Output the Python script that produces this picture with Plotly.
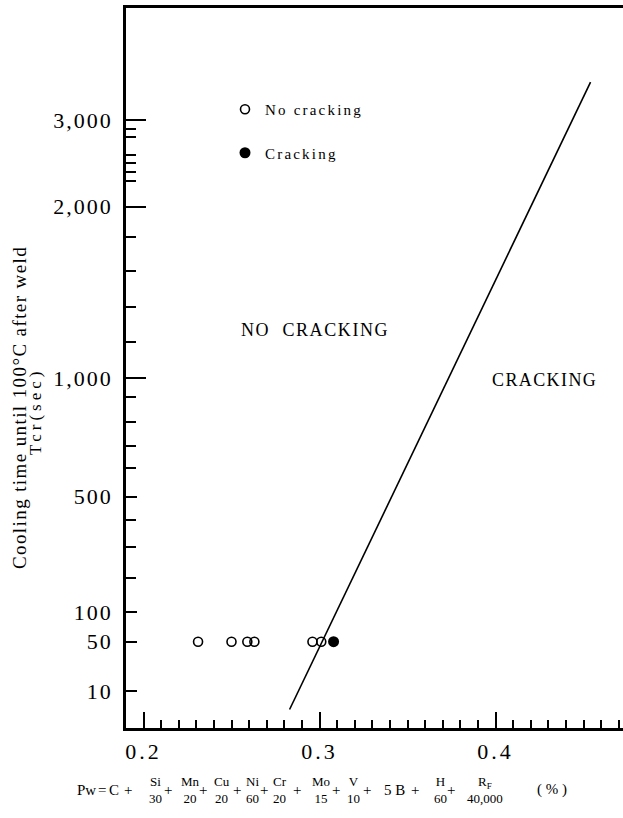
import numpy as np
import plotly.graph_objects as go

# ---------------- data ----------------
pw_no_crack = [0.231, 0.250, 0.259, 0.263, 0.296, 0.301]
tcr_no_crack = [50, 50, 50, 50, 50, 50]
pw_crack = [0.308]
tcr_crack = [50]
boundary_pw = [0.283, 0.454]
boundary_tcr = [5, 3440]

y_major_vals = [10, 50, 100, 500, 1000, 2000, 3000]
y_major_text = ["10", "50", "100", "500", "1,000", "2,000", "3,000"]
y_long_vals = [1000, 2000, 3000]
y_minor_vals = [200, 300, 400, 600, 700, 800, 900, 1200, 1400, 1600, 1800,
                2300, 2400, 2500, 2600, 2800, 2900]
x_major_vals = [0.2, 0.3, 0.4]
x_major_text = ["0.2", "0.3", "0.4"]
x_minor_vals = [round(0.19 + 0.01 * i, 2) for i in range(29)]

# calibration of the chart's non-uniform time scale (value -> relative height)
scale_t = [0, 10, 50, 100, 200, 300, 400, 500, 600, 700, 800, 900, 1000,
           1200, 1400, 1600, 1800, 2000, 3000, 4500]
scale_h = [0, 37, 86.3, 116, 150, 181.3, 208, 231.3, 260, 282.3, 306.3, 331,
           350, 386, 421, 457, 491, 521.3, 608, 737]


def ty(v):
    return np.interp(v, scale_t, scale_h).tolist()


SERIF = "Liberation Serif, Times New Roman, serif"
W, H = 623, 818
ML, MR, MT, MB = 126, 0, 8, 90
PW, PH = W - ML - MR, H - MT - MB


def px(x):
    return (x - ML) / PW


def py(y):
    return 1 - (y - MT) / PH


def sp(text, s):
    return f'<span style="letter-spacing:{s}px">{text}</span>'


fig = go.Figure()

fig.add_trace(go.Scatter(
    x=boundary_pw, y=ty(boundary_tcr), mode="lines",
    line=dict(color="black", width=1.6), showlegend=False, hoverinfo="skip"))

fig.add_trace(go.Scatter(
    x=pw_no_crack, y=ty(tcr_no_crack), mode="markers",
    name=sp("No cracking", 2.2), legendgroup="a",
    marker=dict(symbol="circle-open", size=9, color="black",
                line=dict(width=1.6, color="black"))))

fig.add_trace(go.Scatter(
    x=pw_crack, y=ty(tcr_crack), mode="markers",
    name=sp("Cracking", 2.2), legendgroup="b",
    marker=dict(symbol="circle", size=11, color="black")))

# long major ticks on an overlaid axis
fig.add_trace(go.Scatter(x=[None], y=[None], yaxis="y2", showlegend=False))

yr = [0, PH]
fig.update_layout(
    width=W, height=H,
    margin=dict(l=ML, r=MR, t=MT, b=MB),
    paper_bgcolor="white", plot_bgcolor="white",
    font=dict(family=SERIF, color="black"),
    xaxis=dict(
        range=[0.2 - 17.5 / 1760, 0.2 + (W - 143.5) / 1760],
        showline=True, linewidth=2.5, linecolor="black", mirror=True,
        showgrid=False, zeroline=False,
        tickmode="array", tickvals=x_major_vals,
        ticktext=[sp(t, 3) for t in x_major_text],
        ticks="inside", ticklen=16, tickwidth=2, tickcolor="black",
        ticklabelstandoff=2,
        tickfont=dict(family=SERIF, size=22, color="black"),
        minor=dict(tickvals=x_minor_vals, ticks="inside", ticklen=8,
                   tickwidth=1.6, tickcolor="black"),
    ),
    yaxis=dict(
        range=yr, showline=True, linewidth=2.5, linecolor="black",
        mirror=False, showgrid=False, zeroline=False,
        tickmode="array", tickvals=ty(y_major_vals),
        ticktext=[sp(t, 2) for t in y_major_text],
        ticks="inside", ticklen=11, tickwidth=2, tickcolor="black",
        ticklabelstandoff=6,
        tickfont=dict(family=SERIF, size=22, color="black"),
        minor=dict(tickvals=ty(y_minor_vals), ticks="inside", ticklen=10,
                   tickwidth=1.6, tickcolor="black"),
    ),
    yaxis2=dict(
        overlaying="y", side="left", range=yr, showline=False,
        showgrid=False, zeroline=False, showticklabels=False,
        tickmode="array", tickvals=ty(y_long_vals),
        ticks="inside", ticklen=20, tickwidth=2, tickcolor="black",
    ),
    legend=dict(
        x=px(225), y=py(93), xanchor="left", yanchor="top",
        bgcolor="rgba(0,0,0,0)", borderwidth=0,
        font=dict(family=SERIF, size=15, color="black"),
        traceorder="grouped", tracegroupgap=21, itemsizing="trace",
    ),
    showlegend=True,
)

ann = []
ann.append(dict(text=sp("NO  CRACKING", 1.6), x=px(314.5), y=py(330),
                font=dict(family=SERIF, size=18)))
ann.append(dict(text=sp("CRACKING", 1.4), x=px(544.5), y=py(380),
                font=dict(family=SERIF, size=18)))
ann.append(dict(text=sp("Cooling time until 100°C after weld", 1.4),
                x=px(19), y=py(408), textangle=-90,
                font=dict(family=SERIF, size=19)))
ann.append(dict(text=sp("Tcr(sec)", 4), x=px(35), y=py(412),
                textangle=-90, font=dict(family=SERIF, size=17)))

# formula under the x axis: (text, is_fraction, centre x in px)
formula = [
    ("Pw", False, 86), ("=", False, 102), ("C", False, 114), ("+", False, 128),
    ("Si<br>30", True, 155), ("+", False, 168), ("Mn<br>20", True, 190),
    ("+", False, 203), ("Cu<br>20", True, 222), ("+", False, 237),
    ("Ni<br>60", True, 252), ("+", False, 264), ("Cr<br>20", True, 280),
    ("+", False, 297), ("Mo<br>15", True, 321), ("+", False, 336),
    ("V<br>10", True, 353), ("+", False, 367), ("5 B", False, 394),
    ("+", False, 415), ("H<br>60", True, 440), ("+", False, 451),
    ("R<sub>F</sub><br>40,000", True, 485), ("( % )", False, 552),
]
for text, frac, cx in formula:
    ann.append(dict(text=text, x=px(cx), y=py(790),
                    font=dict(family=SERIF, size=13 if frac else 15)))

for a in ann:
    a.update(xref="paper", yref="paper", showarrow=False,
             xanchor="center", yanchor="middle")
    a["font"]["color"] = "black"
fig.update_layout(annotations=ann)

fig.write_html(
    "out.html",
    config={"displayModeBar": False},
    post_script="document.body.style.margin='0';"
                "document.body.style.overflow='hidden';",
)
